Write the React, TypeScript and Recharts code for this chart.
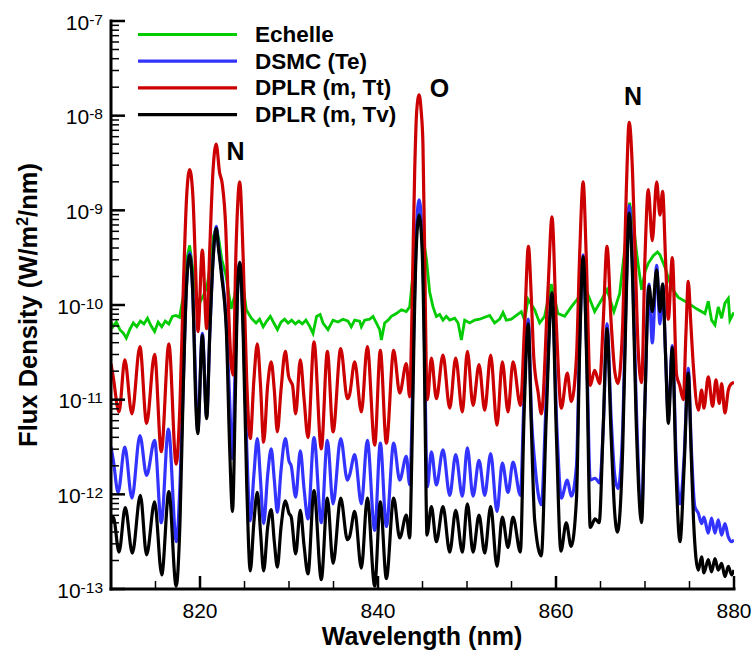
import { LineChart, Line, XAxis, YAxis, ReferenceDot } from 'recharts'

// [wavelength (nm), log10 flux density (W/m2/nm)]
const echelle: [number, number][] = [
  [810.0, -10.18], [810.22, -10.23], [810.6, -10.18], [811.0, -10.26], [811.4, -10.3], [811.72, -10.35], [812.1, -10.26], [812.5, -10.19],
  [812.9, -10.23], [813.3, -10.17], [813.7, -10.2], [814.1, -10.14], [814.5, -10.22], [814.9, -10.28], [815.3, -10.18], [815.7, -10.23],
  [816.1, -10.17], [816.5, -10.2], [816.9, -10.12], [817.3, -10.11], [817.7, -10.13], [818.1, -9.92], [818.5, -9.52], [818.84, -9.37],
  [819.2, -9.63], [819.6, -9.92], [820.0, -9.97], [820.4, -9.9], [820.8, -9.8], [821.2, -9.55], [821.5, -9.28], [821.83, -9.17],
  [822.1, -9.3], [822.45, -9.52], [822.9, -9.68], [823.5, -10.04], [823.9, -9.9], [824.46, -9.56], [824.85, -9.8], [825.2, -10.05],
  [825.77, -10.14], [826.3, -10.19], [826.7, -10.15], [827.1, -10.23], [827.5, -10.17], [827.9, -10.12], [828.3, -10.19], [828.7, -10.26],
  [829.1, -10.18], [829.5, -10.15], [829.9, -10.19], [830.3, -10.16], [830.7, -10.2], [831.1, -10.17], [831.5, -10.2], [831.9, -10.16],
  [832.3, -10.22], [832.7, -10.3], [833.1, -10.12], [833.5, -10.1], [833.82, -10.19], [834.38, -10.26], [834.95, -10.16], [835.5, -10.18],
  [836.07, -10.15], [836.63, -10.17], [837.0, -10.23], [837.38, -10.16], [837.94, -10.17], [838.13, -10.23], [838.5, -10.16], [839.06, -10.15],
  [839.44, -10.12], [839.81, -10.19], [840.19, -10.26], [840.38, -10.37], [840.75, -10.19], [841.13, -10.16], [841.5, -10.12], [842.06, -10.09],
  [842.62, -10.05], [843.18, -10.07], [843.56, -10.02], [843.93, -9.67], [844.3, -9.2], [844.6, -9.02], [844.9, -9.12], [845.1, -9.3],
  [845.45, -9.52], [845.8, -9.86], [846.18, -10.02], [846.56, -10.12], [846.93, -10.1], [847.3, -10.16], [847.68, -10.12], [848.06, -10.16],
  [848.62, -10.14], [849.0, -10.19], [849.37, -10.37], [849.74, -10.16], [850.3, -10.19], [850.86, -10.16], [851.42, -10.15], [851.99, -10.13],
  [852.55, -10.11], [853.11, -10.19], [853.67, -10.15], [854.05, -10.08], [854.42, -10.16], [854.98, -10.15], [855.55, -10.11], [856.11, -10.07],
  [856.48, -10.16], [856.86, -9.94], [857.6, -10.05], [858.16, -10.19], [858.72, -10.12], [859.47, -9.78], [860.22, -10.09], [860.97, -10.12],
  [861.72, -10.02], [862.47, -9.93], [863.03, -9.74], [863.59, -9.89], [864.34, -10.07], [865.09, -9.95], [865.73, -9.84], [866.51, -10.07],
  [867.15, -9.88], [867.71, -9.42], [868.27, -8.92], [868.7, -9.15], [869.06, -9.45], [869.62, -9.84], [870.0, -9.65], [870.37, -9.56],
  [870.93, -9.48], [871.4, -9.44], [871.68, -9.47], [872.24, -9.6], [872.99, -9.82], [873.74, -9.92], [874.86, -9.98], [875.8, -10.04],
  [876.74, -10.09], [877.11, -9.96], [877.48, -10.16], [877.86, -10.21], [878.23, -10.02], [878.61, -10.14], [878.98, -9.98], [879.36, -9.93],
  [879.54, -10.16], [879.92, -10.09], [880.0, -10.08],
]

const dsmcTe: [number, number][] = [
  [810.0, -11.5], [810.26, -11.64], [810.8, -11.98], [811.55, -11.5], [812.35, -12.04], [813.25, -11.38], [814.0, -11.8], [814.9, -11.43],
  [815.65, -12.3], [816.45, -11.31], [817.35, -12.5], [817.75, -11.9], [818.1, -10.9], [818.45, -9.85], [818.84, -9.45], [819.2, -9.9],
  [819.5, -10.8], [819.75, -11.34], [820.26, -10.3], [820.75, -11.18], [821.1, -10.3], [821.45, -9.55], [821.82, -9.17], [822.1, -9.4],
  [822.4, -9.62], [822.96, -10.2], [823.33, -11.0], [823.62, -11.62], [823.97, -10.6], [824.2, -9.9], [824.46, -9.55], [824.85, -10.2],
  [825.25, -11.5], [825.65, -12.28], [826.05, -11.8], [826.44, -11.41], [826.8, -11.85], [827.15, -12.31], [827.6, -11.8], [828.0, -11.52],
  [828.35, -11.85], [828.69, -12.19], [829.1, -11.75], [829.59, -11.41], [830.0, -11.65], [830.25, -11.7], [830.75, -12.03], [831.27, -11.54],
  [831.7, -11.95], [832.13, -12.26], [832.81, -11.4], [833.63, -12.3], [834.31, -11.43], [834.95, -12.1], [835.81, -11.41], [836.56, -11.85],
  [836.8, -11.8], [837.38, -11.58], [838.13, -12.1], [838.8, -11.43], [839.63, -12.38], [840.26, -11.46], [840.94, -12.34], [841.76, -11.46],
  [842.44, -11.85], [843.18, -11.6], [843.56, -11.9], [843.8, -11.3], [844.05, -10.1], [844.3, -9.25], [844.62, -8.89], [844.95, -9.25],
  [845.2, -10.2], [845.4, -11.5], [845.55, -11.92], [846.0, -11.55], [846.56, -11.9], [847.3, -11.53], [848.06, -12.01], [848.73, -11.58],
  [849.48, -12.02], [850.04, -11.51], [850.68, -12.02], [851.35, -11.64], [851.99, -12.01], [852.66, -11.57], [853.37, -12.18], [853.97, -11.67],
  [854.61, -11.98], [855.17, -11.66], [856.0, -12.01], [856.4, -11.0], [856.88, -10.15], [857.25, -11.2], [857.6, -11.65], [858.35, -12.11],
  [858.9, -11.0], [859.55, -9.88], [860.1, -11.3], [860.6, -12.04], [861.27, -11.85], [861.72, -12.02], [862.3, -11.7], [862.65, -10.4],
  [863.05, -9.47], [863.45, -10.5], [863.85, -11.85], [864.4, -11.83], [864.9, -11.88], [865.35, -11.2], [865.73, -10.2], [866.2, -11.2],
  [866.6, -11.8], [866.96, -11.94], [867.5, -11.3], [867.9, -9.8], [868.22, -8.95], [868.6, -9.6], [869.0, -11.0], [869.62, -12.2],
  [870.0, -11.0], [870.44, -9.78], [870.82, -10.4], [871.31, -9.58], [871.68, -10.2], [871.98, -9.78], [872.3, -10.5], [872.62, -11.18],
  [873.07, -10.43], [873.5, -11.6], [873.93, -12.1], [874.4, -11.6], [874.86, -10.67], [875.2, -11.5], [875.6, -12.13], [875.99, -12.2],
  [876.36, -12.31], [876.62, -12.24], [877.11, -12.41], [877.48, -12.25], [877.86, -12.41], [878.23, -12.27], [878.61, -12.43], [878.98, -12.31],
  [879.36, -12.45], [879.73, -12.5], [880.0, -12.48],
]

const dplrTt: [number, number][] = [
  [810.0, -10.62], [810.25, -10.76], [810.9, -11.13], [811.55, -10.58], [812.35, -11.15], [813.25, -10.44], [814.0, -11.25], [814.9, -10.52],
  [815.65, -11.55], [816.5, -10.41], [817.32, -11.68], [817.75, -11.05], [818.15, -9.75], [818.5, -8.85], [818.84, -8.57], [819.2, -8.85],
  [819.5, -9.6], [819.77, -10.28], [820.26, -9.42], [820.75, -10.25], [821.1, -9.4], [821.45, -8.6], [821.82, -8.3], [822.2, -8.6],
  [822.5, -8.72], [822.9, -9.2], [823.15, -9.9], [823.5, -10.62], [823.71, -10.74], [824.05, -9.4], [824.46, -8.7], [824.85, -9.5],
  [825.25, -10.8], [825.65, -11.41], [826.05, -10.8], [826.44, -10.41], [826.8, -10.85], [827.15, -11.45], [827.6, -10.85], [828.0, -10.6],
  [828.35, -10.9], [828.69, -11.34], [829.1, -10.9], [829.59, -10.49], [829.95, -10.75], [830.2, -10.81], [830.4, -10.85], [830.75, -11.15],
  [831.27, -10.58], [831.7, -11.0], [832.13, -11.4], [832.81, -10.39], [833.63, -11.52], [834.31, -10.49], [834.95, -11.34], [835.81, -10.46],
  [836.56, -10.99], [836.8, -10.95], [837.38, -10.6], [838.13, -11.13], [838.8, -10.44], [839.63, -11.48], [840.26, -10.48], [840.94, -11.46],
  [841.76, -10.48], [842.44, -10.93], [843.18, -10.62], [843.56, -10.97], [843.75, -10.4], [843.93, -9.5], [844.12, -8.6], [844.35, -7.95],
  [844.62, -7.78], [844.85, -7.95], [845.05, -8.3], [845.25, -9.5], [845.45, -10.85], [845.55, -11.0], [846.0, -10.56], [846.56, -10.99],
  [847.3, -10.53], [848.06, -11.09], [848.73, -10.56], [849.48, -11.13], [850.04, -10.49], [850.68, -11.06], [851.35, -10.63], [851.99, -11.11],
  [852.66, -10.53], [853.37, -11.27], [853.97, -10.6], [854.61, -11.13], [855.17, -10.6], [856.0, -11.06], [856.48, -10.19], [856.9, -9.38],
  [857.22, -9.91], [857.5, -10.55], [858.0, -10.93], [858.35, -11.15], [859.1, -9.84], [859.55, -9.07], [860.03, -10.19], [860.6, -11.09],
  [861.27, -10.72], [861.72, -11.02], [862.3, -10.55], [862.65, -9.49], [863.05, -8.7], [863.4, -9.49], [863.85, -10.85], [864.34, -10.69],
  [864.9, -10.83], [865.3, -10.19], [865.73, -9.38], [866.2, -10.19], [866.6, -10.7], [866.96, -10.83], [867.5, -10.19], [867.9, -8.79],
  [868.22, -8.07], [868.6, -8.6], [868.9, -9.5], [869.25, -10.5], [869.62, -10.82], [870.0, -9.49], [870.37, -8.78], [870.82, -9.32],
  [871.31, -8.7], [871.68, -9.05], [871.98, -8.8], [872.3, -9.5], [872.62, -10.15], [873.07, -9.5], [873.55, -10.74], [873.9, -10.85],
  [874.3, -11.0], [874.6, -10.3], [874.86, -9.75], [875.15, -10.2], [875.45, -10.67], [876.0, -11.11], [876.36, -10.9], [876.62, -11.09],
  [877.11, -10.76], [877.6, -11.07], [877.97, -10.79], [878.35, -11.04], [878.61, -10.83], [878.98, -11.14], [879.36, -10.9], [879.73, -10.83],
  [880.0, -10.82],
]

const dplrTv: [number, number][] = [
  [810.0, -12.3], [810.26, -12.24], [810.9, -12.61], [811.6, -12.14], [812.4, -12.62], [813.3, -12.01], [814.0, -12.64], [814.9, -12.08],
  [815.7, -12.85], [816.5, -11.97], [817.32, -12.97], [817.75, -12.3], [818.1, -10.95], [818.46, -9.85], [818.84, -9.47], [819.2, -9.9],
  [819.55, -11.1], [819.75, -11.36], [820.26, -10.32], [820.75, -11.2], [821.1, -10.3], [821.45, -9.55], [821.82, -9.19], [822.1, -9.42],
  [822.4, -9.67], [822.96, -10.27], [823.33, -11.5], [823.65, -12.18], [823.97, -10.97], [824.2, -9.91], [824.46, -9.55], [824.85, -10.3],
  [825.25, -11.9], [825.65, -12.81], [826.05, -12.3], [826.44, -11.98], [826.8, -12.4], [827.15, -12.81], [827.6, -12.35], [828.0, -12.16],
  [828.35, -12.5], [828.69, -12.77], [829.1, -12.35], [829.59, -12.07], [830.0, -12.2], [830.25, -12.24], [830.75, -12.63], [831.27, -12.17],
  [831.7, -12.55], [832.13, -12.84], [832.81, -11.96], [833.63, -12.9], [834.31, -12.04], [834.95, -12.73], [835.81, -12.04], [836.56, -12.48],
  [836.8, -12.45], [837.38, -12.18], [838.13, -12.78], [838.8, -12.04], [839.63, -12.97], [840.26, -12.08], [840.94, -12.89], [841.76, -12.04],
  [842.44, -12.46], [843.18, -12.22], [843.56, -12.46], [843.8, -11.6], [844.05, -10.3], [844.3, -9.4], [844.62, -9.05], [844.95, -9.4],
  [845.2, -10.5], [845.4, -12.0], [845.5, -12.43], [846.0, -12.13], [846.56, -12.5], [847.3, -12.13], [848.06, -12.61], [848.73, -12.17],
  [849.48, -12.61], [850.04, -12.1], [850.68, -12.61], [851.35, -12.22], [851.99, -12.62], [852.66, -12.13], [853.37, -12.76], [853.97, -12.24],
  [854.61, -12.56], [855.17, -12.24], [856.0, -12.61], [856.4, -11.2], [856.88, -10.2], [857.22, -11.25], [857.6, -12.27], [858.35, -12.65],
  [858.9, -11.2], [859.55, -9.87], [860.05, -11.4], [860.55, -12.6], [861.15, -12.3], [861.7, -12.55], [862.3, -12.05], [862.65, -10.5],
  [863.05, -9.49], [863.45, -10.6], [863.85, -12.35], [864.4, -12.26], [864.85, -12.3], [865.3, -11.3], [865.73, -10.25], [866.2, -11.4],
  [866.6, -12.2], [866.9, -12.4], [867.5, -11.5], [867.9, -9.9], [868.22, -9.03], [868.6, -9.7], [869.0, -11.2], [869.62, -12.3],
  [870.0, -11.0], [870.44, -9.8], [870.82, -10.07], [871.31, -9.63], [871.68, -10.07], [871.98, -9.78], [872.3, -10.5], [872.62, -11.25],
  [873.07, -10.45], [873.5, -11.8], [873.93, -12.5], [874.4, -11.7], [874.86, -10.72], [875.2, -11.6], [875.45, -12.27], [875.99, -12.8],
  [876.36, -12.66], [876.62, -12.83], [877.11, -12.69], [877.48, -12.82], [877.86, -12.68], [878.23, -12.8], [878.61, -12.73], [878.98, -12.87],
  [879.36, -12.76], [879.73, -12.85], [880.0, -12.8],
]

const seriesNames = ['Echelle', 'DSMC (Te)', 'DPLR (m, Tt)', 'DPLR (m, Tv)']
const seriesData = [echelle, dsmcTe, dplrTt, dplrTv]
const seriesColors = ['#00cc00', '#3333ff', '#cc0000', '#000000']

const xTicks = [810, 815, 820, 825, 830, 835, 840, 845, 850, 855, 860, 865, 870, 875, 880]
const xLabelTicks = [820, 840, 860, 880]
const decades = [-13, -12, -11, -10, -9, -8, -7]
const minorSteps = [2, 3, 4, 5, 6, 7, 8, 9]

// line annotations
const peakNames = ['N', 'O', 'N']
const peakNm = [824.0, 846.9, 868.65]
const peakLog = [-8.47, -7.8, -7.89]

const yTicks: number[] = []
decades.forEach((d) => {
  yTicks.push(Math.pow(10, d))
  if (d < -7) minorSteps.forEach((k) => yTicks.push(k * Math.pow(10, d)))
})

const FONT = '"Liberation Sans", Arial, Helvetica, sans-serif'
const PLOT_LEFT = 111
const PLOT_BOTTOM = 589

const toPoints = (s: [number, number][]) => s.map(([nm, lg]) => ({ nm, flux: Math.pow(10, lg) }))

function XTick(props: any) {
  const { x, payload } = props
  const v = payload.value
  const major = xLabelTicks.includes(v)
  return (
    <g>
      <line x1={x} x2={x} y1={PLOT_BOTTOM} y2={PLOT_BOTTOM - (major ? 13 : 8)} stroke="#000" strokeWidth={major ? 2.5 : 1.5} />
      {major && (
        <text x={x} y={PLOT_BOTTOM + 28.5} textAnchor="middle" fontSize={21} fontFamily={FONT} fill="#000">
          {v}
        </text>
      )}
    </g>
  )
}

function YTick(props: any) {
  const { y, payload } = props
  const lg = Math.log10(payload.value)
  const major = Math.abs(lg - Math.round(lg)) < 1e-6
  return (
    <g>
      <line x1={PLOT_LEFT} x2={PLOT_LEFT + (major ? 14 : 8)} y1={y} y2={y} stroke="#000" strokeWidth={major ? 2.5 : 1.5} />
      {major && (
        <text x={PLOT_LEFT - 8} y={y + 8.5} textAnchor="end" fontSize={21} fontFamily={FONT} fill="#000">
          10
          <tspan dy={-5} fontSize={15.5}>{Math.round(lg)}</tspan>
        </text>
      )}
    </g>
  )
}

const peakShape = (name: string) => (p: any) => (
  <text x={p.cx} y={p.cy} textAnchor="middle" fontSize={25} fontWeight="bold" fontFamily={FONT} fill="#000">
    {name}
  </text>
)

export default function App() {
  const axisLine = { stroke: '#000', strokeWidth: 3, strokeLinecap: 'square' as const }
  return (
    <div style={{ position: 'absolute', left: 0, top: 0, width: 752, height: 654, background: '#fff' }}>
      <LineChart width={752} height={654} margin={{ top: 21, right: 18, bottom: 25, left: 51 }}>
        <XAxis
          type="number"
          dataKey="nm"
          domain={[810, 880]}
          ticks={xTicks}
          interval={0}
          allowDataOverflow
          height={40}
          tickLine={false}
          axisLine={axisLine}
          tick={(p: any) => <XTick {...p} />}
        />
        <YAxis
          type="number"
          scale="log"
          domain={[1e-13, 1e-7]}
          ticks={yTicks}
          interval={0}
          allowDataOverflow
          width={60}
          tickLine={false}
          axisLine={axisLine}
          tick={(p: any) => <YTick {...p} />}
        />
        {seriesData.map((s, i) => (
          <Line
            key={seriesNames[i]}
            data={toPoints(s)}
            dataKey="flux"
            name={seriesNames[i]}
            type={i === 0 ? 'linear' : 'monotone'}
            stroke={seriesColors[i]}
            strokeWidth={i === 0 ? 2.8 : 3.2}
            dot={false}
            activeDot={false}
            isAnimationActive={false}
          />
        ))}
        {peakNames.map((n, i) => (
          <ReferenceDot key={i} x={peakNm[i]} y={Math.pow(10, peakLog[i])} r={1} shape={peakShape(n)} />
        ))}
      </LineChart>
      <svg width={752} height={654} style={{ position: 'absolute', left: 0, top: 0, pointerEvents: 'none' }}>
        {seriesNames.map((n, i) => {
          const ly = 34.5 + i * 26.7
          return (
            <g key={n}>
              <line x1={138} x2={237} y1={ly} y2={ly} stroke={seriesColors[i]} strokeWidth={3.2} />
              <text x={255} y={ly + 7.5} fontSize={22.5} fontWeight="bold" fontFamily={FONT} fill="#000">
                {n}
              </text>
            </g>
          )
        })}
        <text x={422} y={644.5} textAnchor="middle" fontSize={25} fontWeight="bold" fontFamily={FONT} fill="#000">
          Wavelength (nm)
        </text>
        <text transform="translate(37 305) rotate(-90)" textAnchor="middle" fontSize={25.5} fontWeight="bold" fontFamily={FONT} fill="#000">
          Flux Density (W/m
          <tspan dy={-9} fontSize={16}>2</tspan>
          <tspan dy={9}>/nm)</tspan>
        </text>
      </svg>
    </div>
  )
}
